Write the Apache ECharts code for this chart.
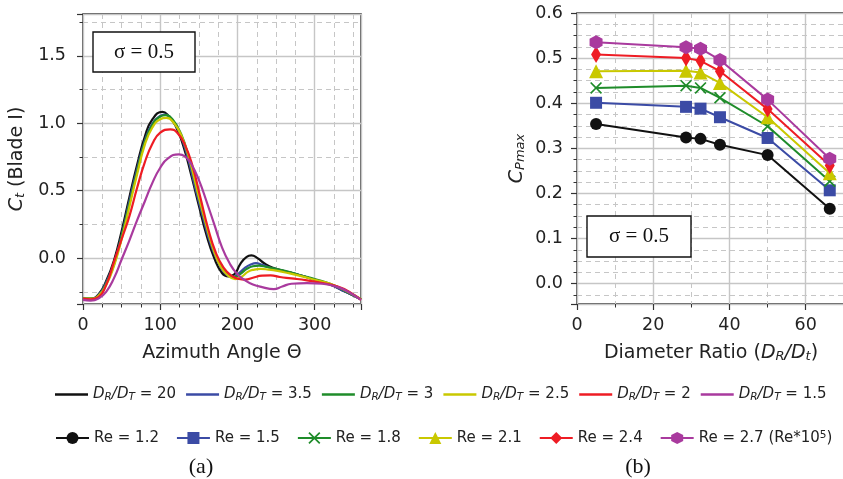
<!DOCTYPE html>
<html><head><meta charset="utf-8">
<script src="https://cdn.jsdelivr.net/npm/echarts@6/dist/echarts.min.js"></script>
<style>html,body{margin:0;padding:0;background:#fff}#c{width:843px;height:479px}</style>
</head><body><div id="c"></div>
<script>
// ---- (a) Ct vs azimuth angle, pairs [theta, Ct] ----
const ctRatio20 = [[0,-0.30],[10,-0.30],[20,-0.27],[30,-0.17],[40,-0.02],[50,0.20],[60,0.45],[70,0.69],[80,0.90],[90,1.03],[103,1.085],[110,1.06],[120,0.98],[130,0.83],[140,0.62],[150,0.39],[160,0.17],[170,0.0],[180,-0.11],[188,-0.135],[196,-0.12],[204,-0.04],[212,0.01],[218,0.02],[226,0.0],[235,-0.04],[245,-0.07],[260,-0.095],[280,-0.125],[300,-0.16],[320,-0.195],[340,-0.25],[360,-0.305]];
const ctRatio35 = [[0,-0.30],[10,-0.30],[20,-0.275],[30,-0.18],[40,-0.04],[50,0.17],[60,0.42],[70,0.66],[80,0.87],[90,1.0],[100,1.055],[106,1.065],[115,1.03],[125,0.93],[135,0.76],[145,0.53],[155,0.31],[165,0.11],[175,-0.03],[185,-0.12],[193,-0.14],[200,-0.12],[210,-0.07],[218,-0.045],[224,-0.037],[232,-0.05],[245,-0.075],[260,-0.095],[280,-0.125],[300,-0.16],[320,-0.195],[340,-0.25],[360,-0.305]];
const ctRatio3 = [[0,-0.30],[10,-0.30],[20,-0.28],[30,-0.19],[40,-0.05],[50,0.16],[60,0.40],[70,0.64],[80,0.86],[90,0.99],[100,1.05],[107,1.06],[117,1.02],[127,0.92],[137,0.75],[147,0.52],[157,0.30],[167,0.10],[177,-0.04],[187,-0.12],[195,-0.14],[203,-0.12],[212,-0.08],[220,-0.06],[228,-0.055],[238,-0.065],[250,-0.08],[265,-0.10],[280,-0.125],[300,-0.155],[320,-0.19],[340,-0.245],[360,-0.305]];
const ctRatio25 = [[0,-0.30],[10,-0.30],[20,-0.28],[30,-0.20],[40,-0.06],[50,0.14],[60,0.38],[70,0.62],[80,0.84],[90,0.97],[100,1.03],[108,1.04],[118,1.0],[128,0.90],[138,0.73],[148,0.50],[158,0.28],[168,0.08],[178,-0.06],[188,-0.13],[197,-0.155],[205,-0.14],[214,-0.10],[222,-0.085],[230,-0.08],[240,-0.085],[252,-0.095],[265,-0.11],[280,-0.13],[300,-0.16],[320,-0.19],[340,-0.24],[360,-0.305]];
const ctRatio2 = [[0,-0.30],[10,-0.305],[20,-0.29],[30,-0.20],[40,-0.03],[50,0.14],[60,0.31],[70,0.52],[80,0.71],[90,0.85],[100,0.93],[113,0.955],[122,0.93],[132,0.84],[142,0.68],[152,0.45],[162,0.22],[172,0.04],[182,-0.07],[192,-0.13],[202,-0.155],[210,-0.16],[220,-0.145],[232,-0.13],[243,-0.128],[255,-0.14],[270,-0.15],[290,-0.165],[310,-0.185],[330,-0.21],[345,-0.25],[360,-0.31]];
const ctRatio15 = [[0,-0.31],[10,-0.315],[20,-0.30],[30,-0.25],[40,-0.15],[50,-0.01],[60,0.13],[70,0.28],[80,0.42],[90,0.56],[100,0.67],[110,0.74],[124,0.77],[132,0.755],[140,0.70],[150,0.58],[160,0.42],[170,0.25],[180,0.08],[190,-0.04],[200,-0.12],[210,-0.165],[220,-0.195],[232,-0.215],[247,-0.23],[258,-0.21],[270,-0.19],[290,-0.185],[310,-0.19],[330,-0.215],[345,-0.255],[360,-0.31]];
const ratioLabels = ['20','3.5','3','2.5','2','1.5'];

// ---- (b) CPmax vs diameter ratio ----
const diameterRatio = [5, 28.6, 32.4, 37.5, 50, 66.3];
const cpRe12 = [0.354,0.324,0.321,0.308,0.285,0.166];
const cpRe15 = [0.401,0.392,0.388,0.369,0.323,0.207];
const cpRe18 = [0.434,0.439,0.434,0.412,0.349,0.227];
const cpRe21 = [0.471,0.472,0.468,0.445,0.369,0.245];
const cpRe24 = [0.508,0.500,0.494,0.471,0.387,0.262];
const cpRe27 = [0.535,0.524,0.521,0.496,0.408,0.277];
const reLabels = ['1.2','1.5','1.8','2.1','2.4','2.7'];

const colors = ['#111111','#3b4ba5','#1f8c2a','#c9c800','#ee1c24','#a93a9e'];
const ctSets = [ctRatio20, ctRatio35, ctRatio3, ctRatio25, ctRatio2, ctRatio15];
const cpSets = [cpRe12, cpRe15, cpRe18, cpRe21, cpRe24, cpRe27];
const markers = [
  {symbol:'circle', size:12},
  {symbol:'rect', size:12},
  {symbol:'path://M0,1L1,0L5,4L9,0L10,1L6,5L10,9L9,10L5,6L1,10L0,9L4,5Z', size:12},
  {symbol:'triangle', size:14},
  {symbol:'diamond', size:[10,17]},
  {symbol:'path://M0,-1L0.866,-0.5L0.866,0.5L0,1L-0.866,0.5L-0.866,-0.5Z', size:[13,14]}
];

const FONT = 'DejaVu Sans';
const tickColor = '#222';
const gridColor = '#c6c6c6';

function multOf(v, step){ return Math.abs(v/step - Math.round(v/step)) < 1e-6; }

const subRich = {
  n:{fontFamily:FONT, fontSize:19, color:'#222'},
  i:{fontFamily:FONT, fontStyle:'italic', fontSize:19, color:'#222'},
  s:{fontFamily:FONT, fontStyle:'italic', fontSize:13, color:'#222', verticalAlign:'bottom', padding:[6,0,0,0]}
};

function axisBase(splitNumber, minorSplit, labelMargin, step, digits){
  return {
    splitNumber:splitNumber,
    axisLine:{show:false, onZero:false},
    axisTick:{show:true, length:6, lineStyle:{color:'#333', width:1.2}},
    minorTick:{show:true, splitNumber:minorSplit, length:3.5, lineStyle:{color:'#333', width:1}},
    splitLine:{show:true, lineStyle:{color:gridColor, width:1.4}},
    minorSplitLine:{show:true, lineStyle:{color:gridColor, width:1, type:[5,4]}},
    axisLabel:{margin:labelMargin, fontFamily:FONT, fontSize:17.5, color:tickColor, showMinLabel:true, showMaxLabel:true,
      formatter:v => multOf(v, step) ? (digits ? v.toFixed(digits) : String(Math.round(v))) : ''}
  };
}

const series = [];
ctSets.forEach((d, k) => {
  series.push({
    name:'ratio' + ratioLabels[k], type:'line', xAxisIndex:0, yAxisIndex:0,
    data:d, symbol:'none', smooth:0.5,
    lineStyle:{color:colors[k], width:2.2}, itemStyle:{color:colors[k]}, z:2+k
  });
});
cpSets.forEach((d, k) => {
  series.push({
    name:'re' + reLabels[k], type:'line', xAxisIndex:1, yAxisIndex:1,
    data:diameterRatio.map((x, j) => [x, d[j]]),
    symbol:markers[k].symbol, symbolSize:markers[k].size,
    lineStyle:{color:colors[k], width:2}, itemStyle:{color:colors[k]}, z:2+k
  });
});

const legendRich = {
  n:{fontFamily:FONT, fontSize:15, color:'#222'},
  i:{fontFamily:FONT, fontStyle:'italic', fontSize:15, color:'#222'},
  s:{fontFamily:FONT, fontStyle:'italic', fontSize:10.5, color:'#222', verticalAlign:'bottom', padding:[5,0,0,0]},
  sup:{fontFamily:FONT, fontSize:10.5, color:'#222', verticalAlign:'top', padding:[0,0,5,0]}
};

const option = {
  animation:false,
  backgroundColor:'#ffffff',
  grid:[
    {left:83, top:14, width:278, height:290, show:true, borderColor:'#222', borderWidth:1.4, backgroundColor:'transparent', outerBoundsMode:'none', containLabel:false},
    {left:577, top:13, width:268, height:291, show:true, borderColor:'#222', borderWidth:1.4, backgroundColor:'transparent', outerBoundsMode:'none', containLabel:false}
  ],
  xAxis:[
    Object.assign(axisBase(4, 4, 12, 100, 0), {
      gridIndex:0, type:'value', min:0, max:360,
      name:'{n|Azimuth Angle Θ}', nameLocation:'middle', nameGap:40, nameTextStyle:{rich:subRich}
    }),
    Object.assign(axisBase(4, 2, 12, 20, 0), {
      gridIndex:1, type:'value', min:0, max:70.3,
      name:'{n|Diameter Ratio (}{i|D}{s|R}{i|/D}{s|t}{n|)}', nameLocation:'middle', nameGap:40, nameTextStyle:{rich:subRich}
    })
  ],
  yAxis:[
    Object.assign(axisBase(4, 2, 17, 0.5, 1), {
      gridIndex:0, type:'value', min:-0.34, max:1.81,
      name:'{i|C}{s|t}{n| (Blade I)}', nameLocation:'middle', nameGap:56, nameTextStyle:{rich:subRich}
    }),
    Object.assign(axisBase(6, 4, 14, 0.1, 1), {
      gridIndex:1, type:'value', min:-0.045, max:0.6,
      name:'{i|C}{s|Pmax}', nameLocation:'middle', nameGap:50, nameTextStyle:{rich:subRich}
    })
  ],
  legend:[
    {
      data:ratioLabels.map(r => ({name:'ratio' + r, icon:'rect'})),
      left:50, top:382, itemWidth:33, itemHeight:2.5, itemGap:10, selectedMode:false,
      textStyle:{fontFamily:FONT, fontSize:15, color:'#222', rich:legendRich},
      formatter:name => '{i|D}{s|R}{i|/D}{s|T}{n| = ' + name.slice(5) + '}'
    },
    {
      data:reLabels.map(r => 're' + r),
      left:50, top:425, itemWidth:33, itemHeight:15, itemGap:17, selectedMode:false,
      textStyle:{fontFamily:FONT, fontSize:15, color:'#222', rich:legendRich},
      formatter:name => {
        const v = name.slice(2);
        return v === '2.7' ? '{n|Re = 2.7 (Re*10}{sup|5}{n|)}' : '{n|Re = ' + v + '}';
      }
    }
  ],
  graphic:[
    {type:'rect', shape:{x:93, y:32, width:102, height:40}, style:{fill:'#fff', stroke:'#111', lineWidth:1.4}, z:50},
    {type:'text', x:144, y:52, style:{text:'σ = 0.5', font:'21px "Liberation Serif", serif', fill:'#111', align:'center', verticalAlign:'middle'}, z:51},
    {type:'rect', shape:{x:587, y:216, width:104, height:41}, style:{fill:'#fff', stroke:'#111', lineWidth:1.4}, z:50},
    {type:'text', x:639, y:236.5, style:{text:'σ = 0.5', font:'21px "Liberation Serif", serif', fill:'#111', align:'center', verticalAlign:'middle'}, z:51},
    {type:'text', x:201, y:467, style:{text:'(a)', font:'22px "Liberation Serif", serif', fill:'#111', align:'center', verticalAlign:'middle'}},
    {type:'text', x:638, y:467, style:{text:'(b)', font:'22px "Liberation Serif", serif', fill:'#111', align:'center', verticalAlign:'middle'}}
  ],
  series:series
};
const chart = echarts.init(document.getElementById('c'), null, {renderer:'canvas'});
chart.setOption(option);
</script>
</body></html>
